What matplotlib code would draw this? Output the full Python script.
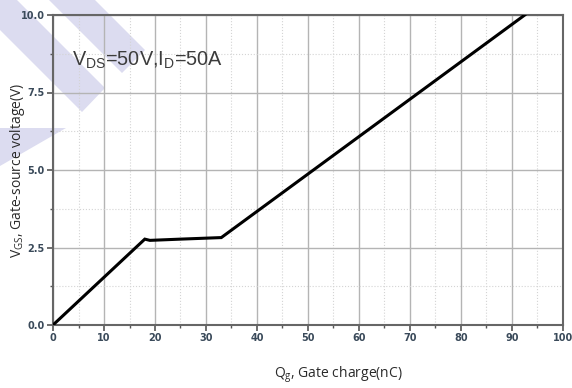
import matplotlib
matplotlib.use("Agg")
import matplotlib.pyplot as plt
from matplotlib.patches import Polygon
import numpy as np

# gate charge curve
qg = [0, 18.0, 19.0, 25.0, 33.0, 92.5]
vgs = [0, 2.77, 2.73, 2.77, 2.82, 10.0]

x_major = np.arange(0, 101, 10)
y_major = [0.0, 2.5, 5.0, 7.5, 10.0]
y_labels = ["0.0", "2.5", "5.0", "7.5", "10.0"]

W, H = 572, 388
fig = plt.figure(figsize=(W / 100, H / 100), dpi=100)

# faint watermark stripes behind the chart (figure pixels)
stripes = [
    [(0, 0), (17, 0), (105, 88), (82, 112), (0, 30)],
    [(49, 0), (95, 0), (145, 50), (122, 73)],
    [(0, 128), (66, 128), (0, 166)],
]
for pts in stripes:
    fig.patches.append(Polygon([(x / W, 1 - y / H) for x, y in pts], closed=True,
                               transform=fig.transFigure, facecolor="#dcdcf0",
                               edgecolor="none", zorder=-5))

ax = fig.add_axes([53 / W, 1 - 325 / H, (563 - 53) / W, (325 - 15) / H])
ax.patch.set_alpha(0)

ax.plot(qg, vgs, color="black", lw=2.2, solid_joinstyle="miter", zorder=3)

ax.set_xlim(0, 100)
ax.set_ylim(0, 10)
ax.set_xticks(x_major)
ax.set_xticks(np.arange(5, 100, 10), minor=True)
ax.set_yticks(y_major)
ax.set_yticklabels(y_labels)
ax.set_yticks([1.25, 3.75, 6.25, 8.75], minor=True)

ax.grid(which="major", color="#b4b4b4", lw=1.0, ls="-")
ax.grid(which="minor", color="#d4d4d4", lw=0.8, ls=":")
ax.set_axisbelow(True)

for s in ax.spines.values():
    s.set_color("#666666")
    s.set_linewidth(1.5)

ax.tick_params(which="major", direction="out", length=4, width=1.2, color="#555555",
               labelsize=7, labelcolor="#3a4a5a", pad=2)
ax.tick_params(which="minor", direction="out", length=2.5, width=1, color="#555555")
for lab in ax.get_xticklabels() + ax.get_yticklabels():
    lab.set_fontweight("bold")

ax.text(3.7, 8.55, r"V$_{\mathregular{DS}}$=50V,I$_{\mathregular{D}}$=50A", fontsize=14.3,
        family="Liberation Sans", color="#3c3c3c", va="center", ha="left", zorder=4)

ax.set_xlabel(r"Q$_{\mathregular{g}}$, Gate charge(nC)", fontsize=10, color="#2a2a2a",
              family="Open Sans")
ax.set_ylabel(r"V$_{\mathregular{GS}}$, Gate-source voltage(V)", fontsize=10, color="#2a2a2a",
              family="Open Sans")
ax.xaxis.set_label_coords((338 - 53) / 510, (325 - 364) / 310)
ax.yaxis.set_label_coords((27 - 53) / 510, 0.5)

fig.savefig("out.png", dpi=100)
